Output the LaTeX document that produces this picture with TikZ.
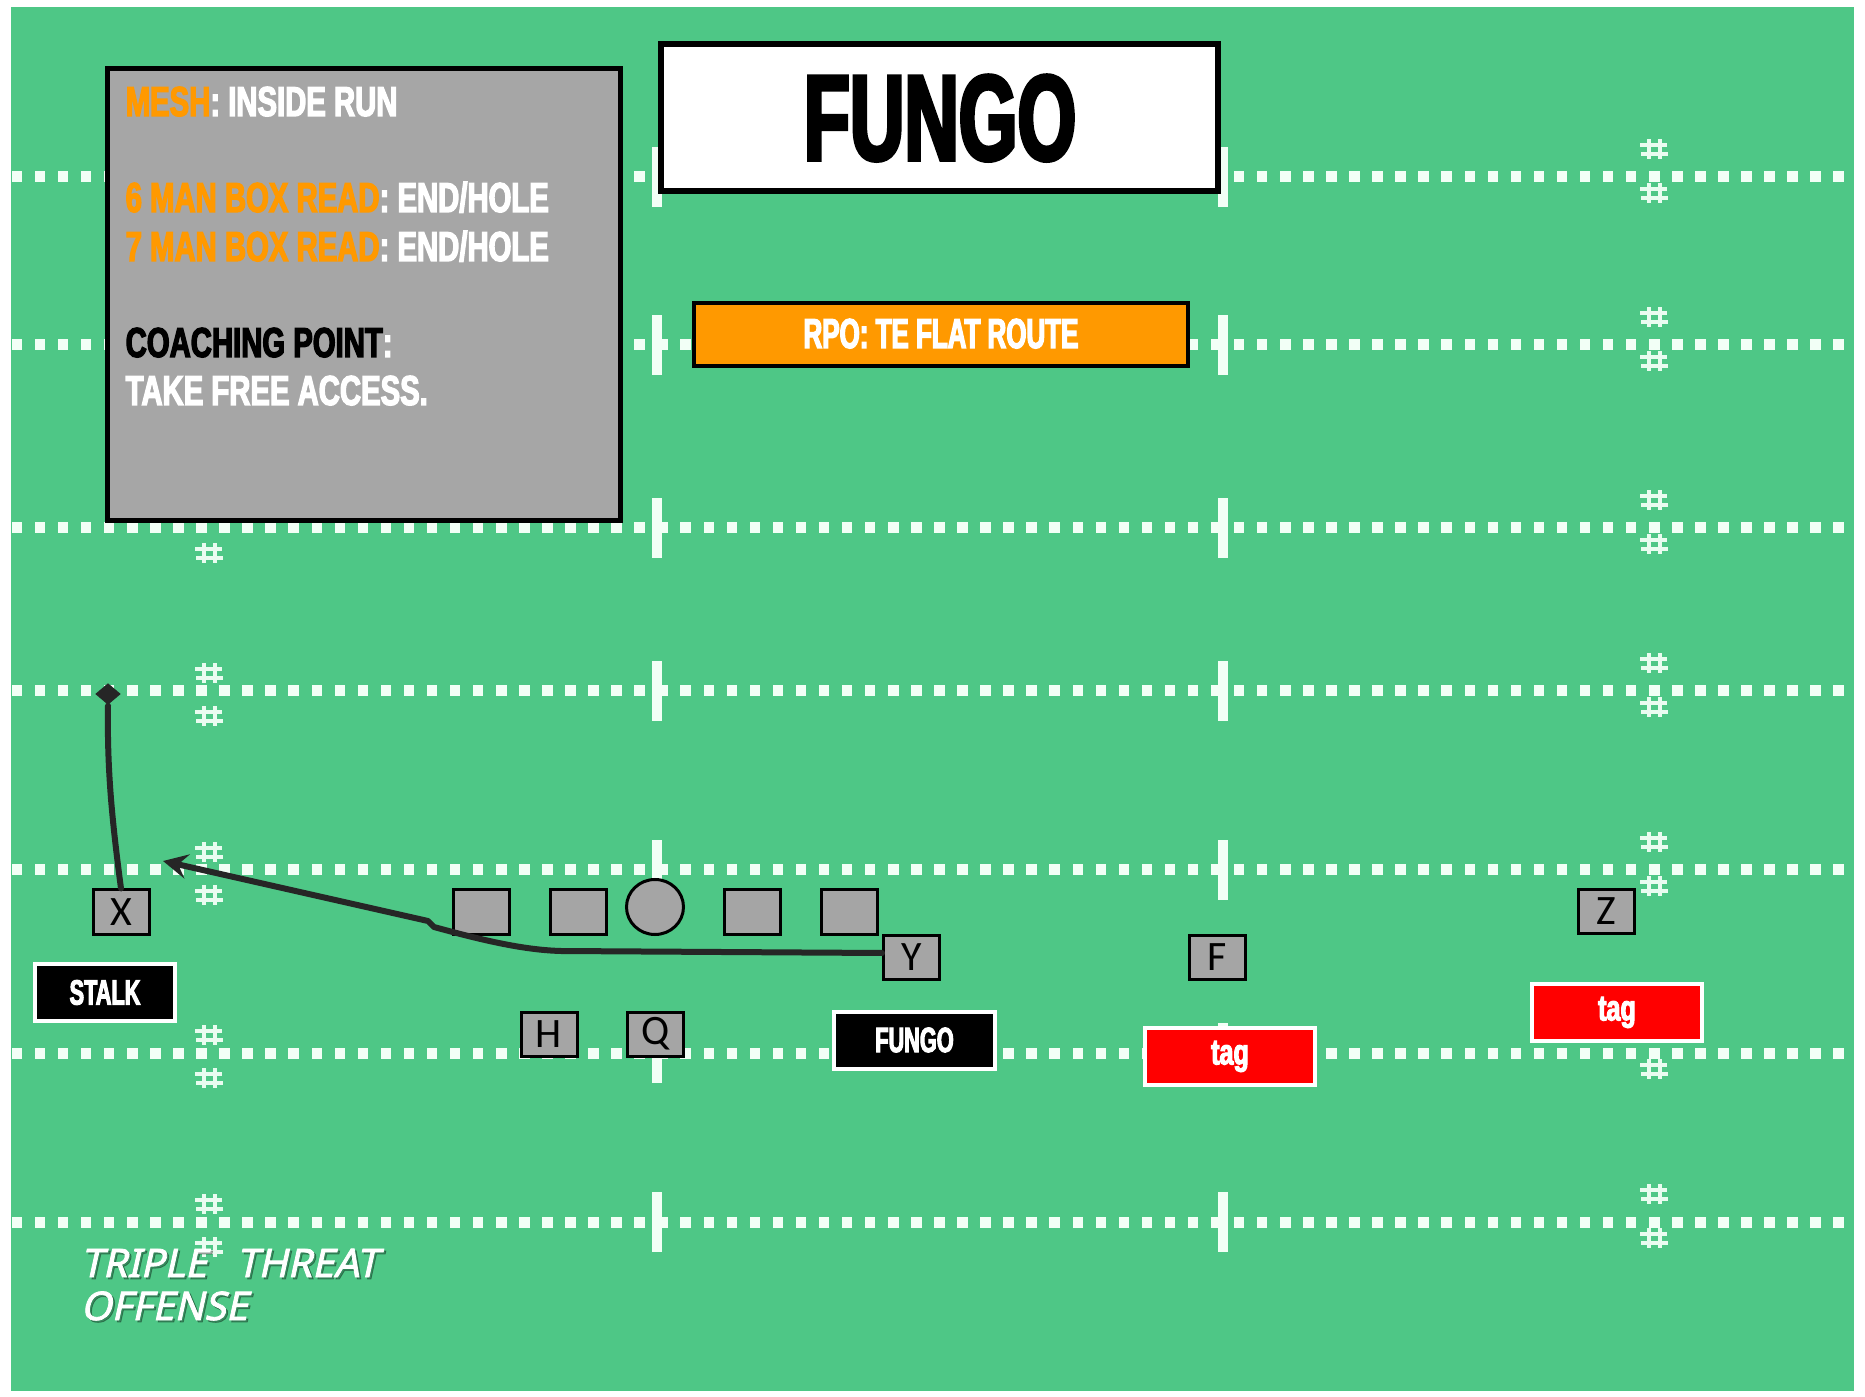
\documentclass[tikz,border=0pt]{standalone}
\usepackage{fontspec}
\usetikzlibrary{arrows.meta,shapes.geometric,calc}

% condensed heavy faces for the play card lettering
\newfontfamily\notesfont{Liberation Sans}[FakeStretch=0.70,FakeBold=3]
\newfontfamily\blockfont{Liberation Sans}[FakeStretch=0.62,FakeBold=3]
\newfontfamily\playerfont{Carlito}
\newfontfamily\handfont{Noto Sans}[FakeSlant=0.22,FakeBold=2]

\definecolor{fieldgreen}{RGB}{78,199,134}
\definecolor{chalk}{RGB}{242,255,246}
\definecolor{notegray}{RGB}{166,166,166}
\definecolor{playergray}{RGB}{165,165,165}
\definecolor{callorange}{RGB}{255,153,0}
\definecolor{tagred}{RGB}{255,0,0}
\definecolor{routeink}{RGB}{38,38,38}

% one unit of the drawing grid
\newdimen\pxu \pxu=0.01cm

\tikzset{
  hashmark/.pic={
    \draw[chalk, line width=3.5\pxu, opacity=0.95]
      (-14,-4) -- (13,-4) (-13,5) -- (14,5)
      (-5,-10) -- (-5,10) (6,-10) -- (6,10);
  },
  player/.style={draw=black, fill=playergray, line width=3\pxu,
    minimum width=56\pxu, minimum height=44\pxu, inner sep=0pt,
    font=\playerfont\fontsize{11.9pt}{12pt}\selectfont, text=black},
  callout/.style={draw=white, line width=4\pxu, inner sep=0pt,
    text=white, minimum height=57\pxu},
  noteline/.style={anchor=base west, inner sep=0pt,
    font=\notesfont\bfseries\fontsize{11.9pt}{13pt}\selectfont},
  brandtext/.style={anchor=base west, inner sep=0pt, align=left,
    font=\handfont\fontsize{11.2pt}{12.2pt}\selectfont},
  route/.style={draw=routeink, line width=6\pxu, line join=round, line cap=round},
}

\begin{document}
\begin{tikzpicture}[x=0.01cm,y=-0.01cm]
\useasboundingbox (0,0) rectangle (1865,1397);
\fill[white] (0,0) rectangle (1865,1397);
\fill[fieldgreen] (11,7) rectangle (1854,1391);

% yard rows: chalk dots, yard ticks and hash marks
\foreach \ly in {177,345,528,691,870,1053,1222} {
  \foreach \k in {0,...,79} {
    \fill[chalk] ({17+23.06*\k-5.25},\ly-5.5) rectangle ++(10.5,11);
  }
  \fill[chalk] (652,\ly-30) rectangle (662,\ly+30);
  \fill[chalk] (1218,\ly-30) rectangle (1228,\ly+30);
  \pic at (209,\ly-18) {hashmark};
  \pic at (209,\ly+25) {hashmark};
  \pic at (1654,\ly-28) {hashmark};
  \pic at (1654,\ly+16) {hashmark};
}

% reads panel
\node (notes) [draw=black, fill=notegray, line width=4.5\pxu, inner sep=0pt,
  minimum width=513\pxu, minimum height=452\pxu] at (364,294.5) {};
\node (mesh) [noteline] at (125,116)
  {\textcolor{callorange}{MESH}\textcolor{white}{: INSIDE RUN}};
\node (six) [noteline] at (125,212)
  {\textcolor{callorange}{6 MAN BOX READ}\textcolor{white}{: END/HOLE}};
\node (seven) [noteline] at (125,261)
  {\textcolor{callorange}{7 MAN BOX READ}\textcolor{white}{: END/HOLE}};
\node (coach) [noteline] at (125,357)
  {\textcolor{black}{COACHING POINT}\textcolor{white}{:}};
\node (access) [noteline] at (125,405) {\textcolor{white}{TAKE FREE ACCESS.}};

% play name and RPO tag
\node (title) [draw=black, fill=white, line width=6\pxu, inner sep=0pt,
  minimum width=557\pxu, minimum height=147\pxu] at (939.5,117.5) {};
\node (titletext) [anchor=base, inner sep=0pt,
  font=\blockfont\bfseries\fontsize{34.6pt}{36pt}\selectfont] at (940,160) {FUNGO};
\node (rpo) [draw=black, fill=callorange, line width=4\pxu, inner sep=0pt,
  minimum width=494\pxu, minimum height=63\pxu] at (941,334.5) {};
\node (rpotext) [anchor=base, inner sep=0pt, text=white,
  font=\blockfont\bfseries\fontsize{11.9pt}{13pt}\selectfont] at (941,348) {RPO: TE FLAT ROUTE};

% formation
\node (X) [player] at (121,912) {X};
\node (lt) [player] at (481.5,912) {};
\node (lg) [player] at (578,912) {};
\node (C) [draw=black, fill=playergray, line width=3\pxu, ellipse, inner sep=0pt,
  minimum width=57\pxu, minimum height=55\pxu] at (655,907) {};
\node (rg) [player] at (752,912) {};
\node (rt) [player] at (849,912) {};
\node (Y) [player] at (911.5,957.5) {Y};
\node (H) [player] at (549,1034) {H};
\node (Q) [player] at (655.5,1034) {Q};
\node (F) [player] at (1217.5,957.5) {F};
\node (Z) [player] at (1606,911.5) {Z};

% assignment labels
\node (stalk) [callout, fill=black, minimum width=140\pxu,
  font=\blockfont\bfseries\fontsize{9.96pt}{11pt}\selectfont] at (105,992.5) {STALK};
\node (fungo) [callout, fill=black, minimum width=161\pxu,
  font=\blockfont\bfseries\fontsize{9.96pt}{11pt}\selectfont] at (914.5,1040) {FUNGO};
\node (tagF) [callout, fill=tagred, minimum width=170\pxu,
  font=\notesfont\bfseries\fontsize{10.2pt}{11pt}\selectfont] at (1230,1056.5) {tag};
\node (tagZ) [callout, fill=tagred, minimum width=170\pxu,
  font=\notesfont\bfseries\fontsize{10.2pt}{11pt}\selectfont] at (1617,1012.5) {tag};

% routes
\node (xend) [diamond, fill=routeink, inner sep=0pt,
  minimum width=26\pxu, minimum height=22\pxu] at (108,694) {};
\draw[route] (X.north) .. controls (112,820) and (107,770) .. (xend.south);

\coordinate (ystart) at ($(Y.west)+(0,-4.5)$);
\coordinate (ytip) at (163,861);
\draw[route, -{Stealth[length=7pt,width=7pt,inset=2.6pt]}]
  (ystart) -- (561,951) .. controls (522,950) and (478,939) .. (434,927)
  -- (428,921) -- (ytip);

% program mark (soft shadow under white lettering)
\node (brandshadow) [brandtext, text=black, opacity=0.3]
  at (82,1322) {TRIPLE\hspace{0.75em}THREAT\\OFFENSE};
\node (brand) [brandtext, text=white]
  at (80,1320) {TRIPLE\hspace{0.75em}THREAT\\OFFENSE};
\end{tikzpicture}
\end{document}
